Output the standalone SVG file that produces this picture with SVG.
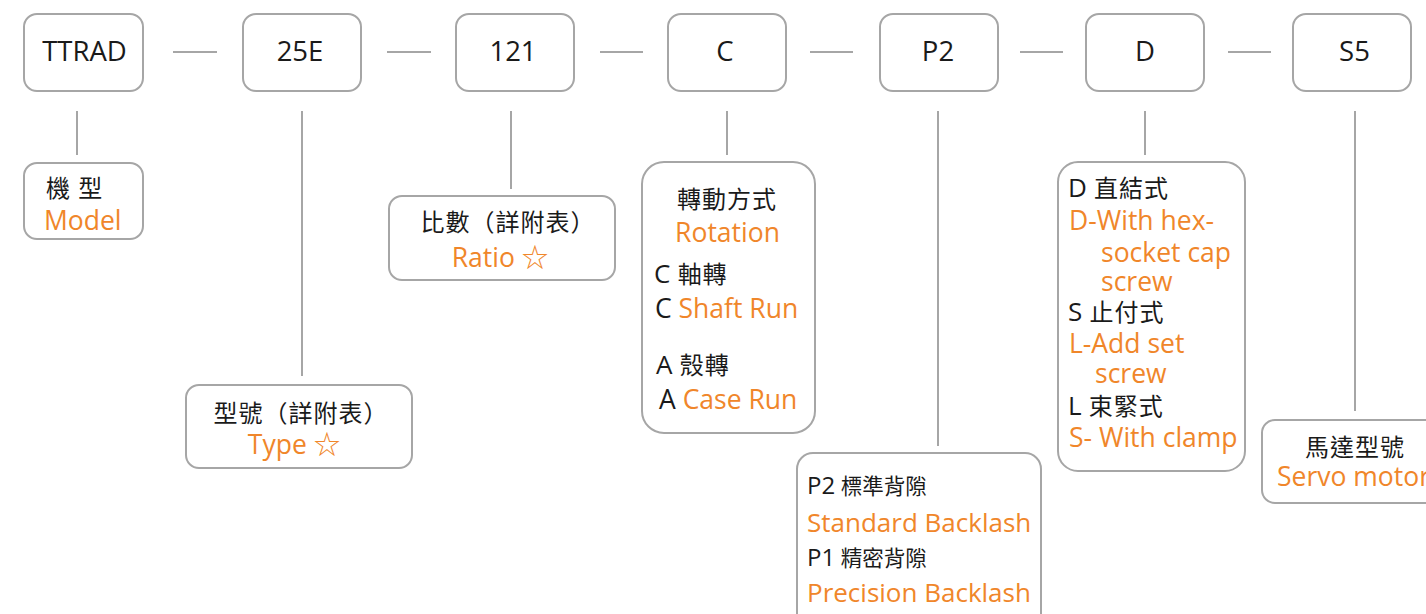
<svg xmlns="http://www.w3.org/2000/svg" width="1426" height="614" viewBox="0 0 1426 614">
<style>
.box{fill:#fff;stroke:#a6a6a6;stroke-width:2}
.ln{stroke:#a6a6a6;stroke-width:2;fill:none}
.t{font-family:"Open Sans","Noto Sans CJK TC",sans-serif;fill:#1a1a1a}
.top{font-size:27.5px;text-anchor:middle}
.k{font-size:24px;letter-spacing:1px}
.L{font-size:26px;letter-spacing:0}
.o{fill:#f0862a;font-size:26.5px}
.c{text-anchor:middle}
.bk{font-size:21.5px}
.bL{font-size:24px}
.bo{fill:#f0862a;font-size:26px}
</style>
<rect width="1426" height="614" fill="#fff"/>
<g id="connectors">
<line class="ln" x1="173" y1="52" x2="217" y2="52"/>
<line class="ln" x1="387" y1="52" x2="431" y2="52"/>
<line class="ln" x1="600" y1="52" x2="643" y2="52"/>
<line class="ln" x1="810" y1="52" x2="853" y2="52"/>
<line class="ln" x1="1020" y1="52" x2="1063" y2="52"/>
<line class="ln" x1="1228" y1="52" x2="1271" y2="52"/>
<line class="ln" x1="77" y1="111" x2="77" y2="155"/>
<line class="ln" x1="302" y1="111" x2="302" y2="376"/>
<line class="ln" x1="511" y1="111" x2="511" y2="189"/>
<line class="ln" x1="727" y1="111" x2="727" y2="155"/>
<line class="ln" x1="938" y1="111" x2="938" y2="446"/>
<line class="ln" x1="1145" y1="111" x2="1145" y2="155"/>
<line class="ln" x1="1355" y1="111" x2="1355" y2="411"/>
</g>
<g id="n-ttrad"><rect class="box" x="24" y="14" width="119" height="77" rx="13"/><text class="t top" x="84.5" y="61">TTRAD</text></g>
<g id="n-25e"><rect class="box" x="243" y="14" width="118" height="77" rx="13"/><text class="t top" x="300" y="61">25E</text></g>
<g id="n-121"><rect class="box" x="456" y="14" width="118" height="77" rx="13"/><text class="t top" x="513" y="61">121</text></g>
<g id="n-c"><rect class="box" x="668" y="14" width="118" height="77" rx="13"/><text class="t top" x="725" y="61">C</text></g>
<g id="n-p2"><rect class="box" x="880" y="14" width="118" height="77" rx="13"/><text class="t top" x="938" y="61">P2</text></g>
<g id="n-d"><rect class="box" x="1086" y="14" width="118" height="77" rx="13"/><text class="t top" x="1145" y="61">D</text></g>
<g id="n-s5"><rect class="box" x="1293" y="14" width="118" height="77" rx="13"/><text class="t top" x="1354.5" y="61">S5</text></g>

<g id="d-model"><rect class="box" x="24" y="163" width="119" height="76" rx="13"/>
<text class="t k" x="46" y="197">機 型</text>
<text class="t o" x="44" y="230">Model</text></g>

<g id="d-ratio"><rect class="box" x="389" y="196" width="226" height="84" rx="13"/>
<text class="t k c" x="508" y="231">比數（詳附表）</text>
<text class="t o c" x="500" y="267">Ratio ☆</text></g>

<g id="d-type"><rect class="box" x="186" y="385" width="226" height="83" rx="13"/>
<text class="t k c" x="301" y="422">型號（詳附表）</text>
<text class="t o c" x="294" y="454">Type ☆</text></g>

<g id="d-rotation"><rect class="box" x="642" y="162" width="173" height="271" rx="22"/>
<text class="t k c" x="727" y="208">轉動方式</text>
<text class="t o c" x="727.5" y="242">Rotation</text>
<text class="t k" x="654" y="283"><tspan class="L">C</tspan> 軸轉</text>
<text class="t o" x="655" y="318"><tspan fill="#1a1a1a">C</tspan> Shaft Run</text>
<text class="t k" x="656" y="374"><tspan class="L">A</tspan> 殼轉</text>
<text class="t o" x="659" y="409"><tspan fill="#1a1a1a">A</tspan> Case Run</text></g>

<g id="d-backlash"><rect class="box" x="797" y="453" width="244" height="180" rx="16"/>
<text class="t bk" x="807" y="494"><tspan class="bL">P2</tspan> 標準背隙</text>
<text class="t bo" x="807" y="532">Standard Backlash</text>
<text class="t bk" x="807" y="566"><tspan class="bL">P1</tspan> 精密背隙</text>
<text class="t bo" x="807" y="602">Precision Backlash</text></g>

<g id="d-d"><rect class="box" x="1058" y="162" width="187" height="309" rx="20"/>
<text class="t k" x="1068" y="197"><tspan class="L">D</tspan> 直結式</text>
<text class="t o" x="1069" y="230">D-With hex-</text>
<text class="t o" x="1101" y="262">socket cap</text>
<text class="t o" x="1101" y="291">screw</text>
<text class="t k" x="1068" y="321"><tspan class="L">S</tspan> 止付式</text>
<text class="t o" x="1069" y="353">L-Add set</text>
<text class="t o" x="1095" y="383">screw</text>
<text class="t k" x="1068" y="415"><tspan class="L">L</tspan> 束緊式</text>
<text class="t o" x="1069" y="447">S- With clamp</text></g>

<g id="d-servo"><rect class="box" x="1262" y="420" width="190" height="83" rx="13"/>
<text class="t k c" x="1355" y="456">馬達型號</text>
<text class="t o" x="1277" y="486">Servo motor</text></g>
</svg>
